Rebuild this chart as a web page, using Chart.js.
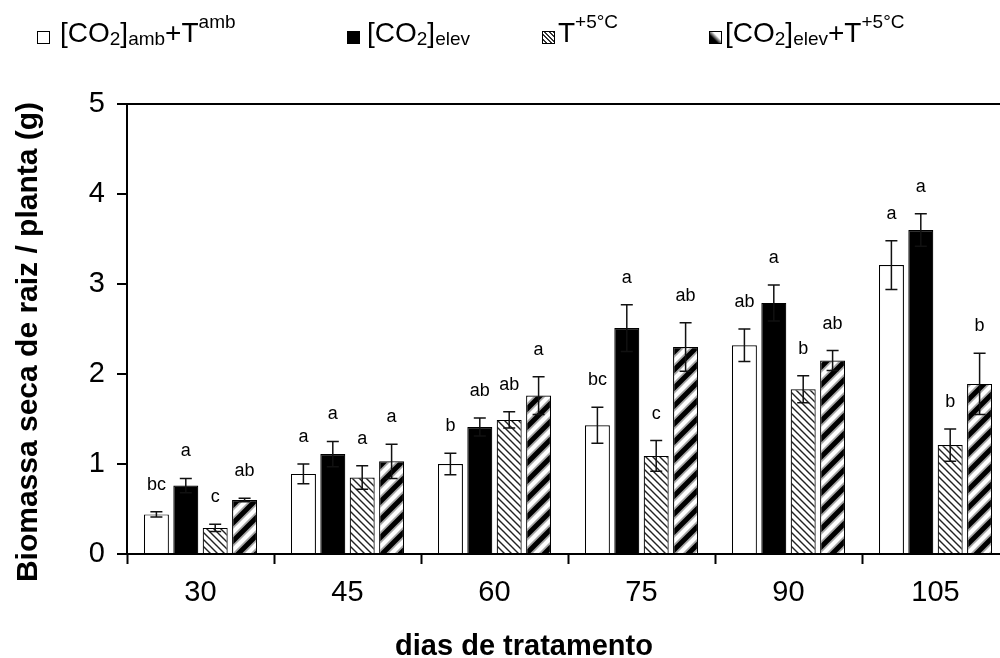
<!DOCTYPE html>
<html>
<head>
<meta charset="utf-8">
<script src="https://cdn.jsdelivr.net/npm/chart.js@4.4.1/dist/chart.umd.min.js"></script>
<style>
  html, body { margin:0; padding:0; width:1000px; height:658px; overflow:hidden; background:#fff; }
  #wrap { position:absolute; left:0; top:0; width:1010px; height:658px; }
  canvas { position:absolute; left:0; top:0; }
  .lt { position:absolute; top:17px; font-family:"Liberation Sans", Arial, sans-serif; font-size:28px; line-height:32px; white-space:nowrap; color:#000; }
  .sb { font-size:19px; position:relative; top:3px; }
  .sp { font-size:19px; position:relative; top:-14px; }
  .bx { position:absolute; top:31px; width:11px; height:11px; border:1px solid #000; box-sizing:content-box; }
  .ttl { position:absolute; font-family:"Liberation Sans", Arial, sans-serif; font-weight:bold; font-size:29px; line-height:34px; height:34px; text-align:center; white-space:nowrap; color:#000; }
</style>
</head>
<body>
<div id="wrap">
  <canvas id="c" width="1010" height="658"></canvas>
  <!-- legend -->
  <div class="bx" style="left:37px;background:#fff;"></div>
  <div class="lt" style="left:60px;">[CO<span class="sb">2</span>]<span class="sb">amb</span>+T<span class="sp">amb</span></div>
  <div class="bx" style="left:347px;background:#000;"></div>
  <div class="lt" style="left:367px;">[CO<span class="sb">2</span>]<span class="sb">elev</span></div>
  <div class="bx" style="left:542px;background:repeating-linear-gradient(45deg,#fff 0px,#fff 2px,#333 2px,#333 3.2px);"></div>
  <div class="lt" style="left:558px;">T<span class="sp">+5°C</span></div>
  <div class="bx" style="left:709px;background:linear-gradient(to top right,#000 0%,#000 35%,#fff 65%,#fff 100%);"></div>
  <div class="lt" style="left:725px;">[CO<span class="sb">2</span>]<span class="sb">elev</span>+T<span class="sp">+5°C</span></div>
  <!-- axis titles -->
  <div class="ttl" style="left:-233px;top:325px;width:520px;font-size:30px;transform:rotate(-90deg);">Biomassa seca de raiz / planta (g)</div>
  <div class="ttl" style="left:324px;top:628px;width:400px;">dias de tratamento</div>
</div>
<script>
// ---- data ----
const categories = ['30', '45', '60', '75', '90', '105'];
const seriesNames = ['[CO2]amb+Tamb', '[CO2]elev', 'T+5°C', '[CO2]elev+T+5°C'];

const ambMean   = [0.44, 0.89, 1.00, 1.43, 2.32, 3.21];
const ambErr    = [0.03, 0.11, 0.12, 0.20, 0.18, 0.27];
const elevMean  = [0.76, 1.11, 1.41, 2.51, 2.79, 3.60];
const elevErr   = [0.08, 0.14, 0.10, 0.26, 0.20, 0.18];
const t5Mean    = [0.29, 0.85, 1.49, 1.09, 1.83, 1.21];
const t5Err     = [0.04, 0.13, 0.09, 0.17, 0.15, 0.18];
const elevT5Mean= [0.60, 1.03, 1.76, 2.30, 2.15, 1.89];
const elevT5Err = [0.02, 0.19, 0.21, 0.27, 0.11, 0.34];

const ambLetters    = ['bc', 'a', 'b', 'bc', 'ab', 'a'];
const elevLetters   = ['a', 'a', 'ab', 'a', 'a', 'a'];
const t5Letters     = ['c', 'a', 'ab', 'c', 'b', 'b'];
const elevT5Letters = ['ab', 'a', 'a', 'ab', 'ab', 'b'];

const yTicks = [0, 1, 2, 3, 4, 5];

// ---- patterns ----
function makeHatch() {
  const s = 7, c = document.createElement('canvas');
  c.width = s; c.height = s;
  const g = c.getContext('2d');
  g.fillStyle = '#fff'; g.fillRect(0, 0, s, s);
  g.strokeStyle = '#222'; g.lineWidth = 1.4;
  g.beginPath();
  g.moveTo(-1, -1); g.lineTo(s + 1, s + 1);
  g.moveTo(-1, s - 1); g.lineTo(1, s + 1);
  g.moveTo(s - 1, -1); g.lineTo(s + 1, 1);
  g.stroke();
  return g.createPattern(c, 'repeat');
}
function makeStripes() {
  const s = 18, c = document.createElement('canvas');
  c.width = s; c.height = s;
  const g = c.getContext('2d');
  g.fillStyle = '#fff'; g.fillRect(0, 0, s, s);
  const segs = [[-s, s, s, -s], [0, s, s, 0], [0, 2 * s, 2 * s, 0]];
  g.lineCap = 'butt';
  [['rgba(0,0,0,0.35)', 8.5], ['#000', 5]].forEach(([col, w]) => {
    g.strokeStyle = col; g.lineWidth = w;
    g.beginPath();
    segs.forEach(([a, b, cc, d]) => { g.moveTo(a, b); g.lineTo(cc, d); });
    g.stroke();
  });
  return g.createPattern(c, 'repeat');
}

const means = [ambMean, elevMean, t5Mean, elevT5Mean];
const errs = [ambErr, elevErr, t5Err, elevT5Err];
const letters = [ambLetters, elevLetters, t5Letters, elevT5Letters];

const errorPlugin = {
  id: 'errorBars',
  afterDatasetsDraw(chart) {
    const g = chart.ctx, ys = chart.scales.y;
    g.save();
    for (let i = 0; i < means.length; i++) {
      const meta = chart.getDatasetMeta(i);
      meta.data.forEach((bar, j) => {
        const x = bar.x;
        const m = means[i][j], e = errs[i][j];
        const yt = ys.getPixelForValue(m + e), yb = ys.getPixelForValue(m - e);
        g.strokeStyle = '#111'; g.lineWidth = 1.5;
        g.beginPath();
        g.moveTo(x, yt); g.lineTo(x, yb);
        g.moveTo(x - 6, yt); g.lineTo(x + 6, yt);
        g.moveTo(x - 6, yb); g.lineTo(x + 6, yb);
        g.stroke();
        g.fillStyle = '#000';
        g.font = '18px "Liberation Sans", Arial, sans-serif';
        g.textAlign = 'center'; g.textBaseline = 'middle';
        g.fillText(letters[i][j], x, yt - 27);
      });
    }
    g.restore();
  }
};

const fontTick = { family: '"Liberation Sans", Arial, sans-serif', size: 29 };

new Chart(document.getElementById('c'), {
  type: 'bar',
  data: {
    labels: categories,
    datasets: [
      { label: seriesNames[0], data: ambMean, backgroundColor: '#fff', borderColor: '#000', borderWidth: 1.2 },
      { label: seriesNames[1], data: elevMean, backgroundColor: '#000', borderColor: '#000', borderWidth: 1.2 },
      { label: seriesNames[2], data: t5Mean, backgroundColor: makeHatch(), borderColor: '#000', borderWidth: 1.2 },
      { label: seriesNames[3], data: elevT5Mean, backgroundColor: makeStripes(), borderColor: '#000', borderWidth: 1.2 }
    ]
  },
  options: {
    responsive: false,
    animation: false,
    devicePixelRatio: 1,
    layout: { padding: { top: 104, right: 1, left: 0, bottom: 0 } },
    datasets: { bar: { categoryPercentage: 0.8, barPercentage: 0.85 } },
    plugins: { legend: { display: false }, tooltip: { enabled: false } },
    scales: {
      x: {
        offset: true,
        grid: { display: true, drawOnChartArea: false, drawTicks: true, tickLength: 10, tickColor: '#000', tickWidth: 2, offset: true },
        border: { display: true, color: '#000', width: 2 },
        ticks: { color: '#000', font: fontTick, padding: 12, maxRotation: 0 },
        afterFit(s) { s.height = 104; }
      },
      y: {
        min: 0, max: 5,
        afterBuildTicks(s) { s.ticks = yTicks.map(v => ({ value: v })); },
        ticks: { color: '#000', font: fontTick, padding: 12 },
        grid: {
          drawOnChartArea: true,
          color: (c) => (c.tick && c.tick.value === 5) ? '#000' : 'rgba(0,0,0,0)',
          lineWidth: 2, tickLength: 10, tickColor: '#000', tickWidth: 2
        },
        border: { display: true, color: '#000', width: 2 },
        afterFit(s) { s.width = 127; }
      }
    }
  },
  plugins: [errorPlugin]
});
</script>
</body>
</html>
